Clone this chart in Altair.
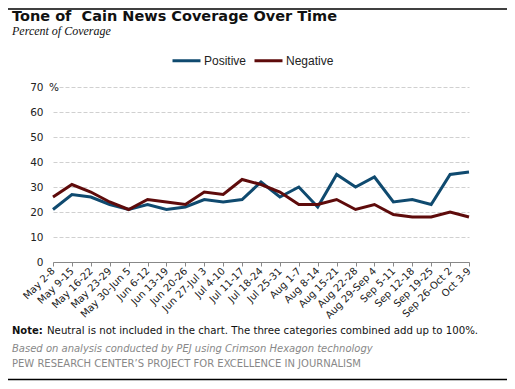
import altair as alt
import pandas as pd

categories = ["May 2-8", "May 9-15", "May 16-22", "May 23-29", "May 30-Jun 5",
              "Jun 6-12", "Jun 13-19", "Jun 20-26", "Jun 27-Jul 3", "Jul 4-10",
              "Jul 11-17", "Jul 18-24", "Jul 25-31", "Aug 1-7", "Aug 8-14",
              "Aug 15-21", "Aug 22-28", "Aug 29-Sep 4", "Sep 5-11", "Sep 12-18",
              "Sep 19-25", "Sep 26-Oct 2", "Oct 3-9"]
positive = [21, 27, 26, 23, 21, 23, 21, 22, 25, 24, 25, 32, 26, 30, 22, 35, 30, 34, 24, 25, 23, 35, 36]
negative = [26, 31, 28, 24, 21, 25, 24, 23, 28, 27, 33, 31, 28, 23, 23, 25, 21, 23, 19, 18, 18, 20, 18]
series = ["Positive", "Negative"]
colors = ["#0f4a6f", "#5e0b0b"]
y_ticks = [0, 10, 20, 30, 40, 50, 60, 70]

title = "Tone of\u00a0 Cain News Coverage Over Time"
subtitle = "Percent of Coverage"
note_bold = "Note:"
note_text = "Neutral is not included in the chart. The three categories combined add up to 100%."
source1 = "Based on analysis conducted by PEJ using Crimson Hexagon technology"
source2 = "PEW RESEARCH CENTER\u2019S PROJECT FOR EXCELLENCE IN JOURNALISM"

rows = []
for i, c in enumerate(categories):
    rows.append({"week": c, "series": "Positive", "value": positive[i]})
    rows.append({"week": c, "series": "Negative", "value": negative[i]})
df = pd.DataFrame(rows)

W, H = 416, 175
FONT = "DejaVu Sans"

base = alt.Chart(df)

lines = base.mark_line(strokeWidth=3).encode(
    x=alt.X("week:N", sort=categories,
            scale=alt.Scale(type="point", padding=0),
            axis=alt.Axis(title=None, labelAngle=-45, labelAlign="right",
                          labelBaseline="middle", labelFont=FONT, labelFontSize=10,
                          labelColor="#222", labelPadding=3, domainColor="#888",
                          tickColor="#888", tickSize=4, grid=False, labelOverlap=False)),
    y=alt.Y("value:Q", scale=alt.Scale(domain=[0, 70], nice=False),
            axis=alt.Axis(title=None, values=y_ticks, grid=True, gridDash=[4, 2],
                          gridColor="#d0d0d0", domain=False, ticks=False,
                          labelFont=FONT, labelFontSize=10.5, labelColor="#222",
                          labelPadding=10)),
    color=alt.Color("series:N", scale=alt.Scale(domain=series, range=colors),
                    legend=alt.Legend(title=None, orient="none", legendX=118, legendY=-42,
                                      direction="horizontal", symbolType="stroke",
                                      symbolStrokeWidth=3, symbolSize=784,
                                      labelFont="Liberation Sans", labelFontSize=12,
                                      labelColor="#222", labelOffset=2,
                                      columnPadding=1)),
)


def txt(text, x, y, size, font=FONT, weight="normal", style="normal", color="#000"):
    d = pd.DataFrame({"t": [text]})
    return alt.Chart(d).mark_text(align="left", baseline="alphabetic", font=font,
                                  fontSize=size, fontWeight=weight, fontStyle=style,
                                  color=color).encode(
        x=alt.value(x), y=alt.value(y), text="t:N")


def rule(y):
    return alt.Chart(pd.DataFrame({"a": [0]})).mark_rule(color="#000", strokeWidth=1.5).encode(
        x=alt.value(-45), x2=alt.value(454), y=alt.value(y))


layers = [
    lines,
    rule(-78),
    rule(292.5),
    txt(title, -41, -66.5, 14.5, weight="bold", color="#111"),
    txt(subtitle, -41, -52.5, 12, font="Liberation Serif", style="italic", color="#111"),
    txt("%", -4, 3.5, 10.5, color="#222"),
    txt(note_bold, -41, 247, 10, weight="bold", color="#111"),
    txt(note_text, -6, 247, 10.2, color="#111"),
    txt(source1, -41, 265, 10, style="italic", color="#888"),
    txt(source2, -41, 280, 10, color="#888"),
]

chart = alt.layer(*layers).properties(
    width=W, height=H,
    padding={"left": 45, "top": 79, "right": 38, "bottom": 119},
    autosize=alt.AutoSizeParams(type="none"),
).configure_view(stroke=None)

chart.save("out.html", embed_options={"renderer": "svg", "actions": False})
